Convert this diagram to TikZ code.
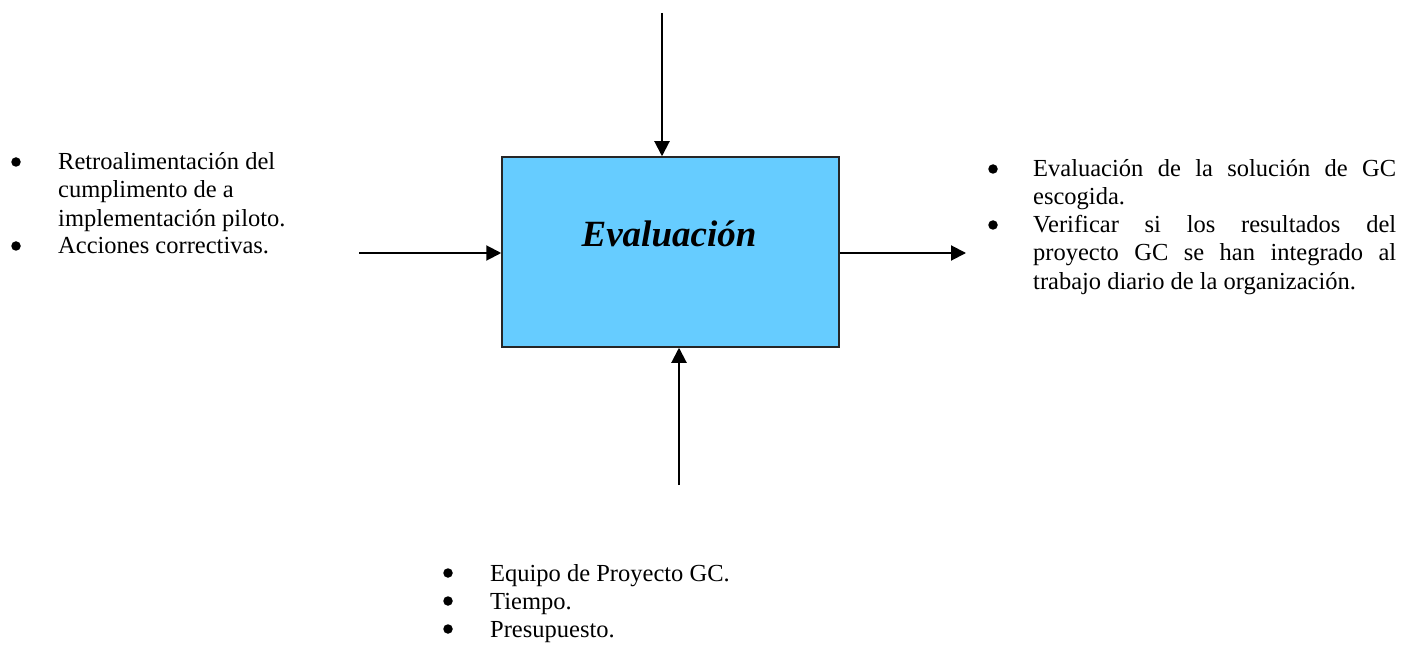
\documentclass[tikz,border=0pt]{standalone}
\usepackage{fontspec}
\setmainfont{Liberation Serif}
\usetikzlibrary{arrows.meta}
\definecolor{boxfill}{HTML}{66CCFF}
\begin{document}
\begin{tikzpicture}[x=1pt,y=-1pt,
  txt/.style={anchor=base west,inner sep=0pt,font=\fontsize{24.5}{28}\selectfont},
  bul/.style={circle,fill=black,inner sep=0pt,minimum size=9.5pt},
  flow/.style={line width=2pt,-{Triangle[length=15pt,width=15pt]}},
  activity/.style={draw=black!85,line width=1.5pt,fill=boxfill,
    minimum width=337pt,minimum height=190pt,inner sep=0pt},
]
\useasboundingbox (0,0) rectangle (1411,647);

% activity box
\node[activity] (box) at (670.5,252) {};
\node[anchor=base,inner sep=0pt,font=\fontsize{37}{40}\selectfont\bfseries\itshape]
  (title) at (669,247) {Evaluación};

% free ends of the connectors
\coordinate (ctrl) at (662,13);
\coordinate (mech) at (679,485);
\coordinate (inp)  at (359,253);
\coordinate (outp) at (966,253);

\draw[flow] (ctrl) -- (ctrl |- box.north);
\draw[flow] (mech) -- (mech |- box.south);
\draw[flow] (inp)  -- (inp -| box.west);
\draw[flow] (box.east |- outp) -- (outp);

% inputs
\node[bul] (ib1) at (16,162) {};
\node[txt] (i1a) at (58,170) {Retroalimentación del};
\node[txt] (i1b) at (58,198) {cumplimento de a};
\node[txt] (i1c) at (58,226) {implementación piloto.};
\node[bul] (ib2) at (16,246) {};
\node[txt] (i2a) at (58,254) {Acciones correctivas.};

% outputs
\node[bul] (ob1) at (993,169) {};
\node[txt] (o1a) at (1033,177) {\makebox[363pt][s]{Evaluación de la solución de GC}};
\node[txt] (o1b) at (1033,205) {escogida.};
\node[bul] (ob2) at (993,225) {};
\node[txt] (o2a) at (1033,233) {\makebox[363pt][s]{Verificar si los resultados del}};
\node[txt] (o2b) at (1033,261) {\makebox[363pt][s]{proyecto GC se han integrado al}};
\node[txt] (o2c) at (1033,289) {trabajo diario de la organización.};

% mechanisms
\node[bul] (mb1) at (448,573) {};
\node[txt] (m1) at (490,581) {Equipo de Proyecto GC.};
\node[bul] (mb2) at (448,601) {};
\node[txt] (m2) at (490,609) {Tiempo.};
\node[bul] (mb3) at (448,629) {};
\node[txt] (m3) at (490,637) {Presupuesto.};
\end{tikzpicture}
\end{document}
